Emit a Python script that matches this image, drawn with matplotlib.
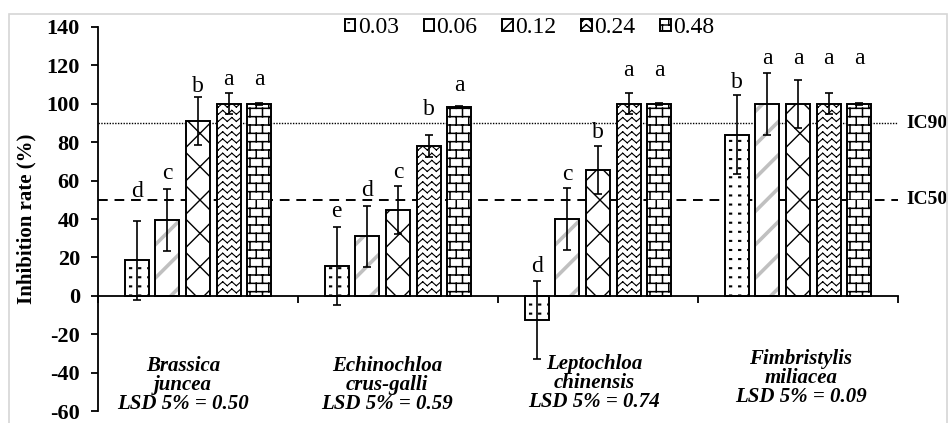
import warnings
import numpy as np
import matplotlib
matplotlib.use("Agg")
import matplotlib.pyplot as plt
from matplotlib import hatch as mhatch
from matplotlib.path import Path
from matplotlib.patches import Rectangle
from matplotlib.legend_handler import HandlerTuple

warnings.filterwarnings("ignore", category=matplotlib.MatplotlibDeprecationWarning)

# data
species = ["Brassica\njuncea", "Echinochloa\ncrus-galli", "Leptochloa\nchinensis", "Fimbristylis\nmiliacea"]
lsd = ["0.50", "0.59", "0.74", "0.09"]
doses = ["0.03", "0.06", "0.12", "0.24", "0.48"]
rate_003 = [18.5, 15.5, -12.5, 84.0]
rate_006 = [39.5, 31.0, 40.0, 100.0]
rate_012 = [91.0, 44.5, 65.5, 100.0]
rate_024 = [100.0, 78.0, 100.0, 100.0]
rate_048 = [100.0, 98.5, 100.0, 100.0]
err_003 = [20.5, 20.5, 20.3, 20.5]
err_006 = [16.0, 16.0, 16.0, 16.0]
err_012 = [12.5, 12.5, 12.5, 12.5]
err_024 = [5.5, 5.5, 5.5, 5.5]
err_048 = [0.5, 0.5, 0.5, 0.5]
let_003 = ["d", "e", "d", "b"]
let_006 = ["c", "d", "c", "a"]
let_012 = ["b", "c", "b", "a"]
let_024 = ["a", "b", "a", "a"]
let_048 = ["a", "a", "a", "a"]
# baseline height of the significance letters
lety_003 = [51.5, 41.3, 12.4, 108.4]
lety_006 = [60.6, 52.0, 60.3, 120.5]
lety_012 = [106.1, 61.6, 82.2, 120.5]
lety_024 = [110.0, 94.2, 114.5, 120.5]
lety_048 = [110.0, 106.9, 114.5, 120.5]
ic90 = 90.0
ic50 = 50.0


def segment_codes(codes):
    codes[0::2] = Path.MOVETO
    codes[1::2] = Path.LINETO


# custom hatches: bricks (B), zigzag chevrons (Z), fine dot grid (D)
# all made of separate two-point segments so Agg does not fill them
class BrickHatch(mhatch.HatchPatternBase):
    rows, cols = 12, 8

    def __init__(self, hatch, density):
        self.on = "B" in hatch
        self.num_vertices = (2 * self.rows * (self.cols + 1)) if self.on else 0

    def set_vertices_and_codes(self, vertices, codes):
        segs = []
        for i in range(self.rows):
            y0, y1 = i / self.rows, (i + 1) / self.rows
            segs.append(((0, y0), (1, y0)))
            shift = 0.5 * (i % 2)
            for j in range(self.cols):
                xx = (j + shift) / self.cols
                segs.append(((xx, y0), (xx, y1)))
        vertices[:] = np.array(segs, dtype=float).reshape(-1, 2)
        segment_codes(codes)


class ZigZagHatch(mhatch.HatchPatternBase):
    rows, per = 14, 11

    def __init__(self, hatch, density):
        self.on = "Z" in hatch
        self.num_vertices = (4 * self.rows * self.per) if self.on else 0

    def set_vertices_and_codes(self, vertices, codes):
        segs = []
        h = 0.55 / self.rows
        w = 1.0 / self.per
        for i in range(self.rows):
            y0 = i / self.rows
            for k in range(self.per):
                x0 = k * w
                segs.append(((x0, y0), (x0 + w / 2, y0 + h)))
                segs.append(((x0 + w / 2, y0 + h), (x0 + w, y0)))
        vertices[:] = np.array(segs).reshape(-1, 2)
        segment_codes(codes)


class DotHatch(mhatch.HatchPatternBase):
    n = 11

    def __init__(self, hatch, density):
        self.on = "D" in hatch
        self.num_vertices = (2 * self.n * self.n) if self.on else 0

    def set_vertices_and_codes(self, vertices, codes):
        segs = []
        for i in range(self.n):
            for j in range(self.n):
                xx, yy = (j + 0.3) / self.n, (i + 0.5) / self.n
                segs.append(((xx, yy), (xx + 0.012, yy)))
        vertices[:] = np.array(segs).reshape(-1, 2)
        segment_codes(codes)


mhatch._hatch_types.extend([BrickHatch, ZigZagHatch, DotHatch])

plt.rcParams["font.family"] = ["Liberation Serif", "DejaVu Serif"]
plt.rcParams["axes.unicode_minus"] = False
plt.rcParams["hatch.linewidth"] = 1.0

fig = plt.figure(figsize=(9.49, 4.23), dpi=100)
ax = fig.add_axes([98 / 949, 12 / 423, 800 / 949, 384 / 423])

rates = [rate_003, rate_006, rate_012, rate_024, rate_048]
errs = [err_003, err_006, err_012, err_024, err_048]
lets = [let_003, let_006, let_012, let_024, let_048]
letys = [lety_003, lety_006, lety_012, lety_024, lety_048]
hatches = ["D", "/", "x", "Z", "B"]
hcolors = ["black", "#c0c0c0", "black", "black", "black"]
hwidths = [1.5, 2.6, 1.0, 0.8, 1.1]

x = np.arange(len(species))
step, width = 0.153, 0.12
handles = []
for i, d in enumerate(doses):
    xs = x + (i - 2) * step
    with plt.rc_context({"hatch.linewidth": hwidths[i]}):
        hb = ax.bar(xs, rates[i], width, color="white", edgecolor=hcolors[i],
                    hatch=hatches[i], linewidth=0, zorder=2)
        for p in hb:
            if hasattr(p, "set_hatch_linewidth"):
                p.set_hatch_linewidth(hwidths[i])
    ob = ax.bar(xs, rates[i], width, fill=False, edgecolor="black",
                linewidth=1.4, zorder=3)
    ax.errorbar(xs, rates[i], yerr=errs[i], fmt="none", ecolor="black",
                elinewidth=1.2, capsize=3.2, capthick=1.2, zorder=4)
    for xx, yy, t in zip(xs, letys[i], lets[i]):
        ax.text(xx, yy, t, ha="center", va="baseline", fontsize=17)
    handles.append((hb[0], ob[0]))

ax.axhline(ic90, color="black", lw=1.0, ls=(0, (1, 1)), zorder=1, clip_on=False)
ax.axhline(ic50, color="black", lw=1.4, ls=(0, (5, 3.5)), zorder=1, clip_on=False)
ax.text(1.01, ic90, "IC90", transform=ax.get_yaxis_transform(), va="center",
        ha="left", fontsize=14, fontweight="bold")
ax.text(1.01, ic50, "IC50", transform=ax.get_yaxis_transform(), va="center",
        ha="left", fontsize=14, fontweight="bold")

# species names under the bars
label_dx = [-0.075, -0.055, -0.02, 0.015]
label_y = [-46.5, -46.5, -45.4, -42.8]
for xx, dx, yy, s, l in zip(x, label_dx, label_y, species, lsd):
    ax.text(xx + dx, yy, s + "\nLSD 5% = " + l, ha="center", va="center",
            fontsize=15, fontweight="bold", fontstyle="italic", linespacing=0.95)

ax.set_xlim(-0.5, 3.5)
ax.set_ylim(-60, 140)
ax.set_yticks(np.arange(-60, 141, 20))
ax.set_xticks(np.arange(-0.5, 3.6, 1.0))
ax.set_xticklabels([])
for s in ["top", "right"]:
    ax.spines[s].set_visible(False)
ax.spines["bottom"].set_position(("data", 0))
ax.spines["left"].set_linewidth(1.3)
ax.spines["bottom"].set_linewidth(1.3)
ax.tick_params(axis="y", direction="out", length=5, width=1.3, pad=8, labelsize=16)
ax.tick_params(axis="x", direction="out", length=5, width=1.3)
for t in ax.get_yticklabels():
    t.set_fontweight("bold")
ax.set_ylabel("Inhibition rate (%)", fontsize=15, fontweight="bold")
ax.yaxis.set_label_coords(-0.077, 0.5)

fig.legend(handles, doses, ncol=5, loc="center", bbox_to_anchor=(0.558, 0.934),
           frameon=False, fontsize=17, handlelength=0.45, handleheight=0.45,
           handletextpad=0.1, columnspacing=1.05, borderaxespad=0,
           handler_map={tuple: HandlerTuple(ndivide=1, pad=0)})

# light grey frame around the picture
fig.patches.append(Rectangle((9 / 949, -0.1), (947 - 9) / 949, 1.1 - 14 / 423,
                             transform=fig.transFigure, fill=False,
                             edgecolor="#d6d6d6", lw=1.2))

fig.savefig("out.png", dpi=100)
